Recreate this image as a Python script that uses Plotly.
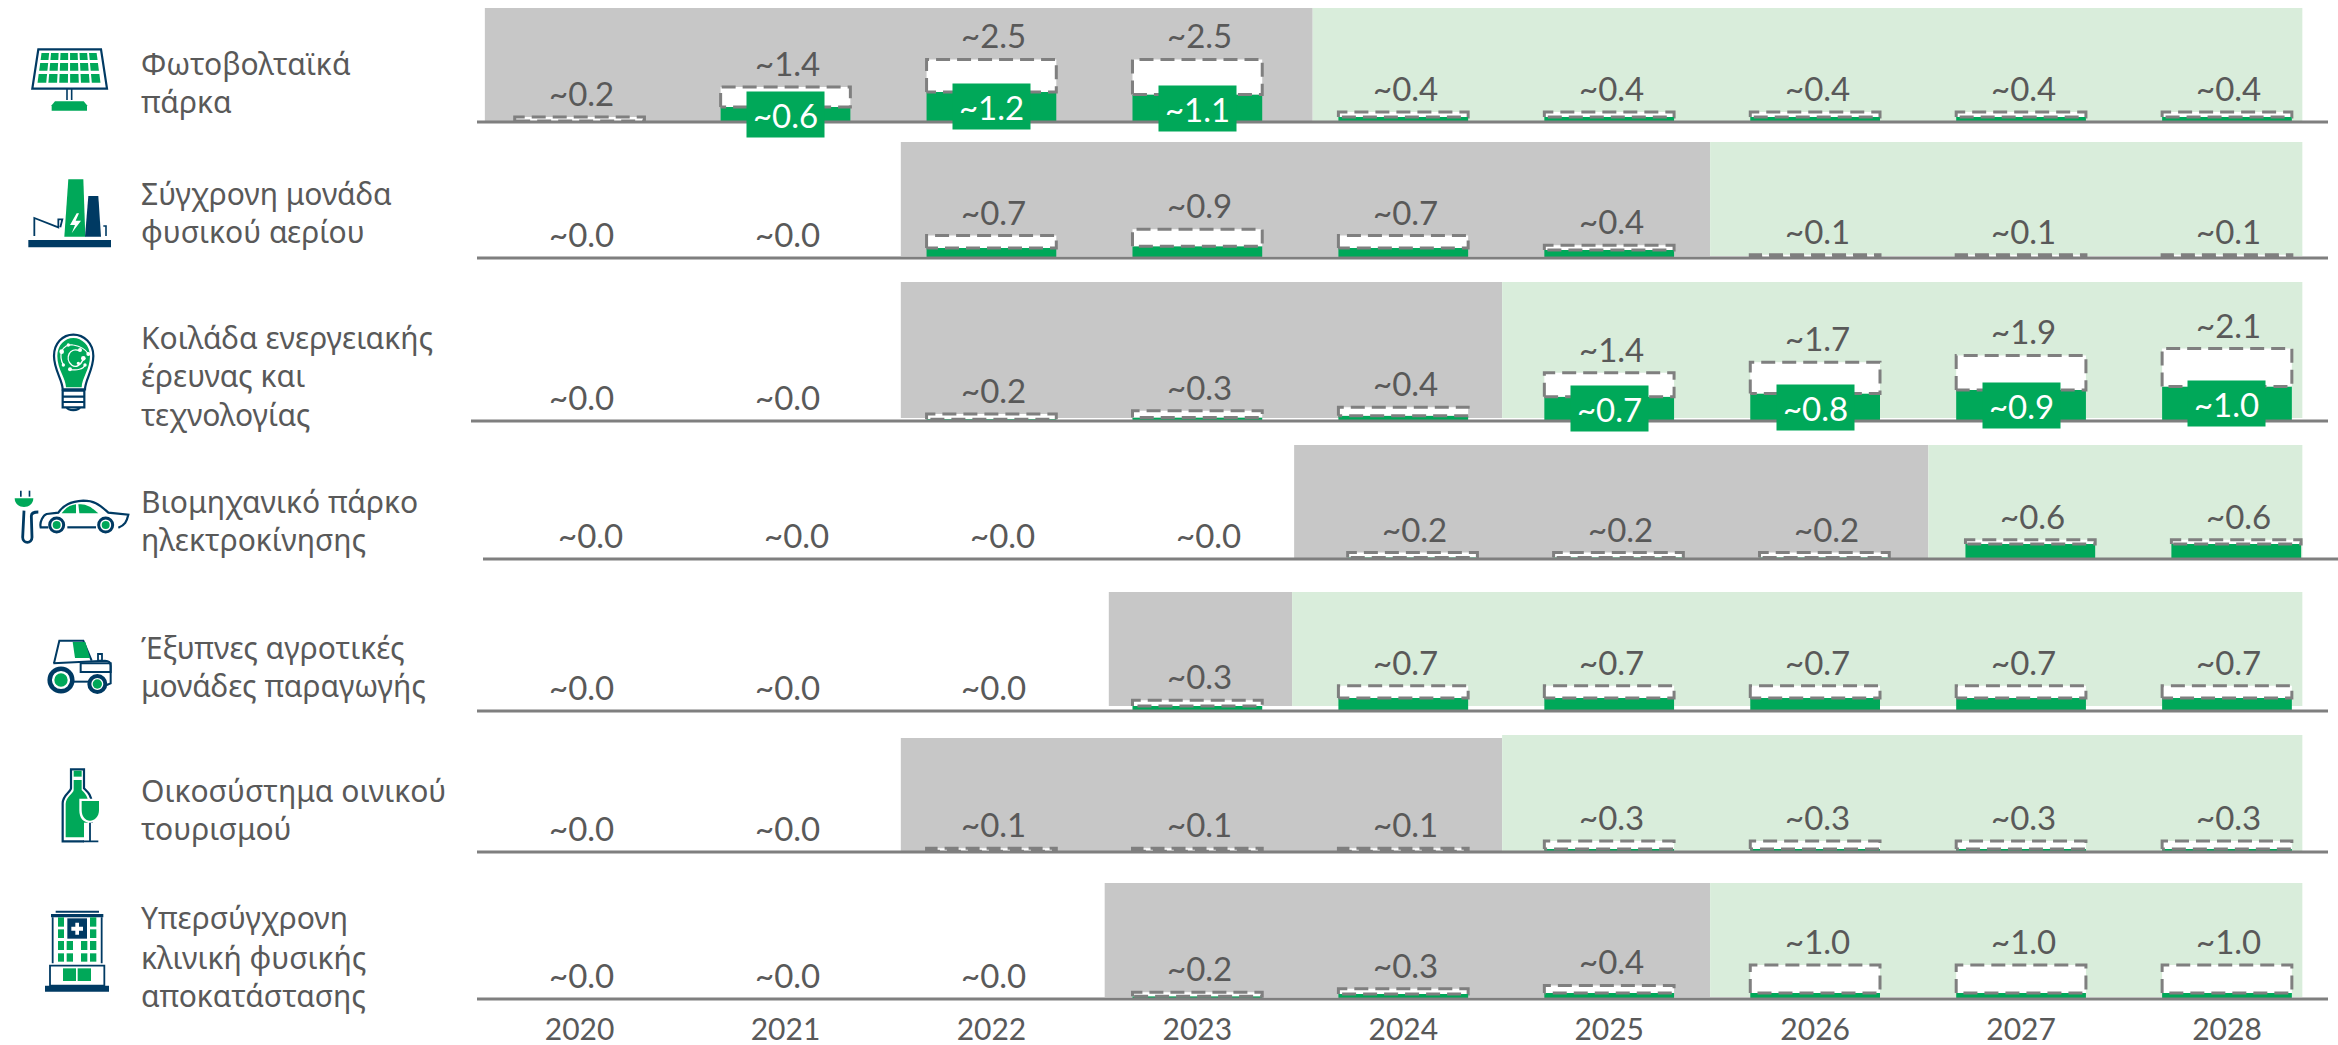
import re
import plotly.graph_objects as go

# ---------- data ----------
YEARS = [2020, 2021, 2022, 2023, 2024, 2025, 2026, 2027, 2028]
ROW_LABELS = [
    ["Φωτοβολταϊκά", "πάρκα"],
    ["Σύγχρονη μονάδα", "φυσικού αερίου"],
    ["Κοιλάδα ενεργειακής", "έρευνας και", "τεχνολογίας"],
    ["Βιομηχανικό πάρκο", "ηλεκτροκίνησης"],
    ["Έξυπνες αγροτικές", "μονάδες παραγωγής"],
    ["Οικοσύστημα οινικού", "τουρισμού"],
    ["Υπερσύγχρονη", "κλινική φυσικής", "αποκατάστασης"],
]
TOTAL_1 = [0.2, 1.4, 2.5, 2.5, 0.4, 0.4, 0.4, 0.4, 0.4]
TOTAL_2 = [0.0, 0.0, 0.7, 0.9, 0.7, 0.4, 0.1, 0.1, 0.1]
TOTAL_3 = [0.0, 0.0, 0.2, 0.3, 0.4, 1.4, 1.7, 1.9, 2.1]
TOTAL_4 = [0.0, 0.0, 0.0, 0.0, 0.2, 0.2, 0.2, 0.6, 0.6]
TOTAL_5 = [0.0, 0.0, 0.0, 0.3, 0.7, 0.7, 0.7, 0.7, 0.7]
TOTAL_6 = [0.0, 0.0, 0.1, 0.1, 0.1, 0.3, 0.3, 0.3, 0.3]
TOTAL_7 = [0.0, 0.0, 0.0, 0.2, 0.3, 0.4, 1.0, 1.0, 1.0]
GREEN_1 = [0.04, 0.6, 1.2, 1.1, 0.2, 0.2, 0.2, 0.2, 0.2]
GREEN_2 = [0.0, 0.0, 0.31, 0.37, 0.31, 0.25, 0.03, 0.03, 0.03]
GREEN_3 = [0.0, 0.0, 0.05, 0.1, 0.15, 0.7, 0.8, 0.9, 1.0]
GREEN_4 = [0.0, 0.0, 0.0, 0.0, 0.05, 0.05, 0.05, 0.47, 0.47]
GREEN_5 = [0.0, 0.0, 0.0, 0.14, 0.36, 0.36, 0.36, 0.36, 0.36]
GREEN_6 = [0.0, 0.0, 0.02, 0.02, 0.02, 0.08, 0.08, 0.08, 0.08]
GREEN_7 = [0.0, 0.0, 0.0, 0.08, 0.15, 0.18, 0.18, 0.18, 0.18]
TOTALS = [TOTAL_1, TOTAL_2, TOTAL_3, TOTAL_4, TOTAL_5, TOTAL_6, TOTAL_7]
GREENS = [GREEN_1, GREEN_2, GREEN_3, GREEN_4, GREEN_5, GREEN_6, GREEN_7]
# phases of each row, in years on the x axis
GRAY_START = [2019.54, 2021.56, 2021.56, 2023.47, 2022.57, 2021.56, 2022.55]
GREEN_START = [2023.56, 2025.49, 2024.48, 2026.55, 2023.46, 2024.48, 2025.49]
PHASE_END = 2028.366

# ---------- layout constants (pixels of the page) ----------
W, H = 2338, 1045
BASE = [122, 258, 421, 559, 711, 852, 999]
TOP = [8, 142, 282, 445, 592, 735, 883]
GRAY_TOP = [8, 142, 282, 445, 592, 738, 883]
BG_BOTTOM = [122, 256, 418, 559, 706, 853, 997]
SCALE = [25, 32, 34.5, 32, 36, 37, 34]
LINE_X0 = [477, 477, 471, 483, 477, 477, 477]
LINE_X1 = [2328, 2328, 2328, 2338, 2328, 2328, 2328]
ROW_DX = [0, 0, 0, 0.045, 0, 0, 0]
LABEL_Y = [[63, 101], [193, 231], [337, 375, 414], [501, 539], [647, 685], [790, 828], [917, 957, 995]]
PX_PER_YEAR = 205.9
X_RANGE = [2020 - 579.5 / PX_PER_YEAR, 2028 + (W - 2227) / PX_PER_YEAR]
BAR_W = 0.63

GREEN = "#00A859"
NAVY = "#003A63"
GRAY_BG = "#C7C7C7"
GREEN_BG = "#D9EDDB"
LINE = "#7F7F7F"
TEXT = "#595959"
FONT = "Lato, Noto Sans, sans-serif"
LABEL_FONT = "Noto Sans, sans-serif"
VAL_SIZE = 33

fig = go.Figure()
shapes, annots = [], []
layout_axes = {}

for r in range(7):
    ya = "y" if r == 0 else f"y{r+1}"
    key = "yaxis" if r == 0 else f"yaxis{r+1}"
    layout_axes[key] = dict(
        domain=[1 - BASE[r] / H, 1 - TOP[r] / H],
        range=[0, (BASE[r] - TOP[r]) / SCALE[r]],
        visible=False, fixedrange=True, anchor="x", automargin=False,
    )
    xs = [y + ROW_DX[r] for y in YEARS]
    tot, grn = TOTALS[r], GREENS[r]
    # phase backgrounds
    shapes.append(dict(type="rect", xref="x", yref="y8", x0=GRAY_START[r], x1=GREEN_START[r],
                       y0=GRAY_TOP[r], y1=BG_BOTTOM[r], fillcolor=GRAY_BG, line_width=0, layer="below"))
    shapes.append(dict(type="rect", xref="x", yref="y8", x0=GREEN_START[r], x1=PHASE_END,
                       y0=TOP[r], y1=BG_BOTTOM[r], fillcolor=GREEN_BG, line_width=0, layer="below"))
    # solid and dashed stacks
    fig.add_bar(x=xs, y=grn, width=BAR_W, marker=dict(color=GREEN, line_width=0),
                yaxis=ya, xaxis="x", showlegend=False, hoverinfo="skip")
    fig.add_bar(x=xs, y=[t - g for t, g in zip(tot, grn)], base=grn, width=BAR_W,
                marker=dict(color="white", line_width=0),
                yaxis=ya, xaxis="x", showlegend=False, hoverinfo="skip")
    ox, oy = [], []
    for x, t, g in zip(xs, tot, grn):
        if t > 0:
            a, b = x - BAR_W / 2, x + BAR_W / 2
            ox += [a, a, b, b, a, None]
            oy += [g, t, t, g, g, None]
    fig.add_scatter(x=ox, y=oy, mode="lines", yaxis=ya, xaxis="x", showlegend=False, hoverinfo="skip",
                    cliponaxis=False, line=dict(color=LINE, width=3, dash="14px,7px"))
    # baseline
    shapes.append(dict(type="line", xref="x2", yref="y8", x0=LINE_X0[r], x1=LINE_X1[r],
                       y0=BASE[r], y1=BASE[r], line=dict(color=LINE, width=3), layer="above"))
    # value labels
    for x, t, g in zip(xs, tot, grn):
        annots.append(dict(x=x, y=t, xref="x", yref=ya, text=f"~{t:.1f}", showarrow=False,
                           yanchor="bottom", xanchor="center", xshift=2, yshift=2,
                           font=dict(family=FONT, size=VAL_SIZE, color=TEXT)))
        if g >= 0.6:
            annots.append(dict(x=x, y=g / 2, xref="x", yref=ya, text=f"~{g:.1f}", showarrow=False,
                               yanchor="middle", xanchor="center", width=75, height=43, bgcolor=GREEN,
                               font=dict(family=FONT, size=VAL_SIZE, color="white")))
    # row labels
    for line, ly in zip(ROW_LABELS[r], LABEL_Y[r]):
        annots.append(dict(x=139, y=ly, xref="x2", yref="y8", text=line, showarrow=False,
                           xanchor="left", yanchor="middle", align="left",
                           font=dict(family=LABEL_FONT, size=30, color=TEXT)))

# dummy trace that holds the page-pixel overlay axes
fig.add_scatter(x=[None], y=[None], xaxis="x2", yaxis="y8", showlegend=False, hoverinfo="skip")


# ---------- icons ----------
def tf(d, ox, oy, k=3.0):
    nums = iter(range(10 ** 6))
    def rep(m):
        v = float(m.group())
        return f"{(ox if next(nums) % 2 == 0 else oy) + v / k:.2f}"
    return re.sub(r"-?\d+\.?\d*", rep, d)

def path(d, ox, oy, fill=None, line=None, w=2.0):
    shapes.append(dict(type="path", xref="x2", yref="y8", path=tf(d, ox, oy), layer="above",
                       fillcolor=fill or "rgba(0,0,0,0)",
                       line=dict(color=line or "rgba(0,0,0,0)", width=w if line else 0)))

def rect(x0, y0, x1, y1, ox, oy, fill=None, line=None, w=2.0):
    path(f"M {x0} {y0} L {x1} {y0} L {x1} {y1} L {x0} {y1} Z", ox, oy, fill, line, w)

def circ(cx, cy, r, ox, oy, fill=None, line=None, w=2.0):
    shapes.append(dict(type="circle", xref="x2", yref="y8", layer="above",
                       x0=ox + (cx - r) / 3, x1=ox + (cx + r) / 3, y0=oy + (cy - r) / 3, y1=oy + (cy + r) / 3,
                       fillcolor=fill or "rgba(0,0,0,0)",
                       line=dict(color=line or "rgba(0,0,0,0)", width=w if line else 0)))

# solar panel
o = (25, 40)
path("M 40 28 L 228 28 L 246 146 L 22 146 Z", *o, line=NAVY, w=2.2)
for ya_, yb_ in [(39, 60), (69, 92), (102, 128)]:
    def ed(y, s):
        return (134 + s * (84 + (y - 28) * 0.137))
    for c in range(6):
        f0, f1 = (c + 0.04) / 6, (c + 0.84) / 6
        la, ra, lb, rb = ed(ya_, -1), ed(ya_, 1), ed(yb_, -1), ed(yb_, 1)
        path(f"M {la+(ra-la)*f0:.1f} {ya_} L {la+(ra-la)*f1:.1f} {ya_} L {lb+(rb-lb)*f1:.1f} {yb_} L {lb+(rb-lb)*f0:.1f} {yb_} Z",
             *o, fill=GREEN)
rect(126, 146, 126, 180, *o, line=NAVY, w=1.6)
rect(140, 146, 140, 180, *o, line=NAVY, w=1.6)
path("M 90 184 L 176 184 L 186 196 L 186 212 L 80 212 L 80 196 Z", *o, fill=GREEN)

# gas plant
o = (25, 170)
rect(10, 210, 258, 232, *o, fill=NAVY)
path("M 130 28 L 175 28 L 181 200 L 118 200 Z", *o, fill=GREEN)
path("M 190 78 L 220 78 L 228 200 L 180 200 Z", *o, fill=NAVY)
path("M 155 130 L 135 165 L 150 165 L 140 190 L 168 152 L 152 152 L 162 130 Z", *o, fill="white")
path("M 28 198 L 28 144 L 100 172 L 100 148 L 112 148 L 106 172", *o, line=NAVY, w=1.8)
path("M 235 168 L 243 168 L 243 198", *o, line=NAVY, w=1.6)

# bulb
o = (40, 330)
path("M 68 178 C 68 150 42 120 42 78 C 42 40 68 14 100 14 C 132 14 160 40 160 78 C 160 120 135 150 135 178 Z",
     *o, line=NAVY, w=2.2)
path("M 78 172 C 78 145 52 118 52 78 C 52 46 74 24 100 24 C 126 24 150 46 150 78 C 150 118 125 145 125 172 Z",
     *o, fill=GREEN)
path("M 118 62 C 90 50 72 85 95 105 C 108 115 122 105 130 88", *o, line="white", w=1.4)
path("M 65 65 C 70 50 85 42 100 45 C 120 48 135 55 145 72", *o, line="white", w=1.2)
path("M 70 105 C 62 90 60 80 65 65", *o, line="white", w=1.2)
path("M 90 118 C 110 122 130 118 135 105", *o, line="white", w=1.2)
for cx, cy, cr in [(65, 65, 7), (85, 45, 5), (120, 60, 6), (145, 72, 6), (130, 85, 7), (115, 100, 5), (90, 118, 6), (135, 105, 5), (70, 105, 5)]:
    circ(cx, cy, cr, *o, fill="white")
rect(68, 182, 133, 232, *o, line=NAVY, w=2.2)
rect(68, 200, 133, 200, *o, line=NAVY, w=2.2)
rect(68, 216, 133, 216, *o, line=NAVY, w=2.2)
path("M 80 232 C 85 243 115 243 120 232", *o, line=NAVY, w=2.2)

# car and plug
o = (10, 480)
path("M 14 55 L 70 55 C 70 90 14 90 14 55 Z", *o, fill=GREEN)
rect(30, 32, 35, 50, *o, fill=NAVY)
rect(56, 32, 61, 50, *o, fill=NAVY)
path("M 42 92 L 38 172 C 38 192 66 192 66 172 L 64 108 C 64 98 74 96 85 96", *o, line=NAVY, w=2.8)
path("M 115 142 L 92 142 C 88 125 100 105 110 102 L 145 98 C 160 75 180 65 220 62 C 250 62 265 70 295 98 L 355 104 C 350 125 345 135 325 143",
     *o, line=NAVY, w=2.2)
path("M 172 142 L 258 142", *o, line=NAVY, w=2.2)
path("M 155 100 C 165 85 180 75 198 73 L 198 100 Z", *o, fill=GREEN)
path("M 205 73 C 230 73 240 78 265 100 L 208 100 Z", *o, fill=GREEN)
for cx in (140, 287):
    circ(cx, 135, 21, *o, fill="white", line=NAVY, w=3)
    circ(cx, 135, 12, *o, fill=GREEN)

# tractor
o = (40, 630)
path("M 42 100 L 58 32 L 130 32 L 155 92", *o, line=NAVY, w=2)
path("M 98 36 L 136 36 L 150 84 L 105 84 Z", *o, fill=GREEN)
path("M 40 100 L 195 92 C 205 92 212 98 212 108 L 212 160 L 200 165", *o, line=NAVY, w=2)
rect(122, 100, 212, 126, *o, line=NAVY, w=2)
rect(174, 72, 186, 92, *o, line=NAVY, w=1.8)
path("M 100 155 L 145 155", *o, line=NAVY, w=2)
circ(63, 150, 34, *o, fill="white", line=NAVY, w=4.5)
circ(63, 150, 20, *o, fill=GREEN)
circ(172, 162, 24, *o, fill="white", line=NAVY, w=4)
circ(172, 162, 14, *o, fill=GREEN)

# bottle and glass
o = (0, 700)
path("M 213 208 L 252 208 L 252 265 C 262 275 275 285 275 310 L 275 424 L 188 424 L 188 310 C 188 285 213 275 213 265 Z",
     *o, line=NAVY, w=2.2)
rect(221, 212, 245, 230, *o, fill=GREEN)
path("M 221 240 L 245 240 L 245 270 C 255 280 265 290 265 312 L 262 412 L 197 412 L 197 312 C 197 290 221 280 221 270 Z",
     *o, fill=GREEN)
path("M 238 296 L 302 296 L 302 330 C 302 360 285 368 270 368 C 250 368 238 355 238 330 Z", *o, fill="white")
path("M 245 303 L 297 303 L 297 330 C 297 352 282 362 270 362 C 256 362 245 350 245 330 Z", *o, fill=GREEN)
rect(252, 368, 290, 430, *o, fill="white")
path("M 270 368 L 270 424 M 250 424 L 295 424", *o, line=NAVY, w=1.8)

# hospital
rect(135, 857, 327, 875, *o, fill=NAVY)
rect(150, 797, 313, 857, *o, line=NAVY, w=1.8)
rect(189, 805, 228, 843, *o, fill=GREEN)
rect(233, 805, 273, 843, *o, fill=GREEN)
path("M 158 652 L 158 790 M 305 652 L 305 790", *o, line=NAVY, w=1.8)
rect(153, 642, 310, 652, *o, fill=NAVY)
rect(167, 632, 297, 638, *o, fill=NAVY)
rect(202, 655, 261, 716, *o, fill=NAVY)
path("M 226 668 L 237 668 L 237 680 L 249 680 L 249 692 L 237 692 L 237 704 L 226 704 L 226 692 L 214 692 L 214 680 L 226 680 Z", *o, fill="white")
for xa, xb in [(174, 192), (270, 289)]:
    for ya_, yb_ in [(652, 680), (688, 714), (723, 750), (760, 785)]:
        rect(xa, ya_, xb, yb_, *o, fill=GREEN)
for xa, xb in [(200, 219), (243, 262)]:
    for ya_, yb_ in [(723, 750), (760, 785)]:
        rect(xa, ya_, xb, yb_, *o, fill=GREEN)

fig.update_layout(
    width=W, height=H,
    margin=dict(l=0, r=0, t=0, b=0, autoexpand=False),
    paper_bgcolor="white", plot_bgcolor="rgba(0,0,0,0)",
    barmode="overlay", showlegend=False,
    xaxis=dict(range=X_RANGE, domain=[0, 1], anchor="free", position=1 - 1009 / H,
               tickmode="array", tickvals=YEARS, ticktext=[str(y) for y in YEARS],
               tickfont=dict(family=FONT, size=30, color=TEXT), automargin=False,
               showgrid=False, zeroline=False, showline=False, ticks="", fixedrange=True),
    xaxis2=dict(range=[0, W], domain=[0, 1], anchor="y8", visible=False, fixedrange=True),
    yaxis8=dict(range=[H, 0], domain=[0, 1], anchor="x2", visible=False, fixedrange=True),
    shapes=shapes, annotations=annots,
    **layout_axes,
)
fig.write_html("out.html", config={"displayModeBar": False},
               post_script="document.body.style.margin='0';document.documentElement.style.overflow='hidden';")
